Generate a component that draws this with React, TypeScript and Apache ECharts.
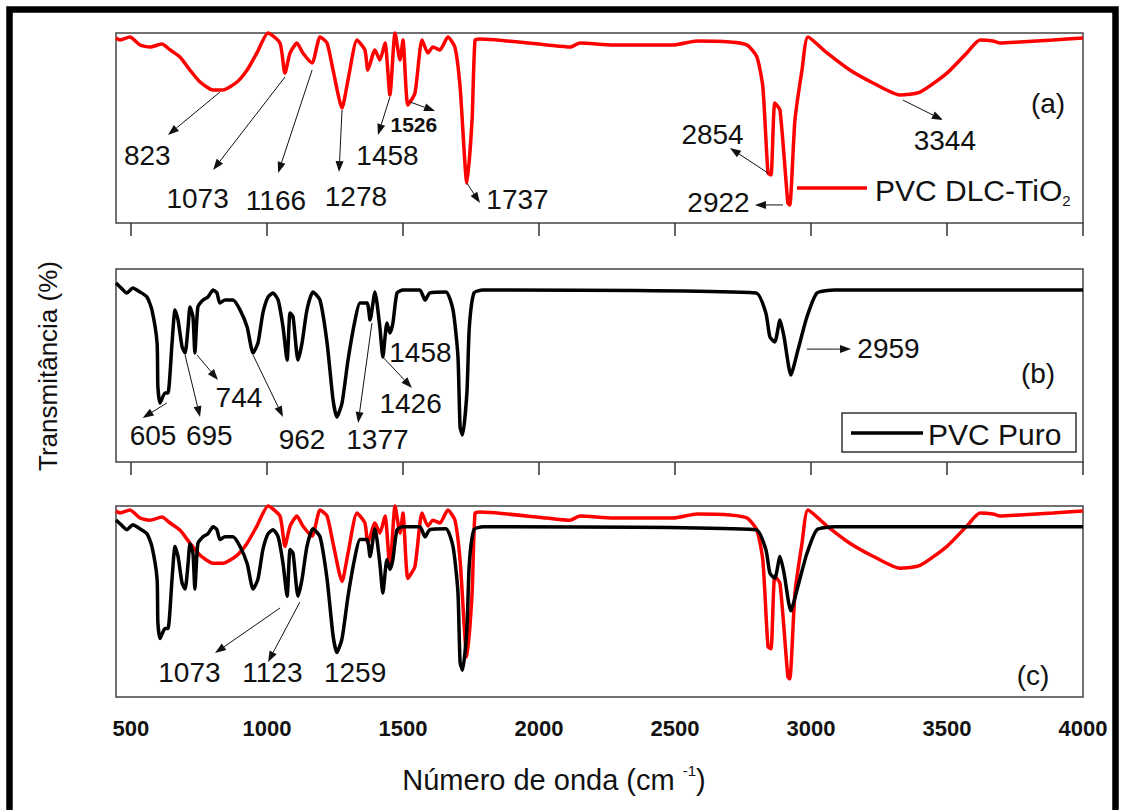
import React, { useEffect, useRef } from 'react';
import * as echarts from 'echarts';

const xTicks = [500, 1000, 1500, 2000, 2500, 3000, 3500, 4000];

// PVC DLC-TiO2 (red): [wavenumber, transmittance (relative)]
const redSpectrum: [number, number][] = [
  [445, 97.4], [460, 96.3], [496, 97.9], [533, 93.7], [570, 92.6], [614, 94.2], [644, 91.1],
  [680, 87.4], [717, 80.5], [754, 74.2], [802, 70.0], [838, 70.0], [890, 74.2], [927, 80.5],
  [963, 89.5], [1004, 100], [1048, 94.7], [1066, 78.9], [1085, 89.5], [1110, 94.7], [1132, 89.5],
  [1166, 84.2], [1195, 97.9], [1221, 94.7], [1243, 80.5], [1276, 60.5], [1298, 75.3], [1331, 96.3],
  [1360, 91.1], [1371, 80.5], [1397, 91.1], [1415, 85.8], [1434, 94.7], [1452, 67.4], [1471, 100],
  [1489, 85.8], [1500, 96.3], [1518, 62.1], [1544, 68.4], [1570, 96.3], [1592, 89.5], [1610, 92.6],
  [1636, 91.1], [1665, 97.9], [1691, 92.6], [1710, 71.6], [1735, 21], [1754, 54.2], [1765, 96.3],
  [1783, 96.8], [2029, 93.7], [2114, 92.6], [2151, 94.7], [2272, 93.7], [2493, 93.7], [2581, 95.8],
  [2702, 95.3], [2765, 93.7], [2801, 87.4], [2823, 71.6], [2842, 26.3], [2853, 25.3], [2867, 63.2],
  [2886, 59.5], [2915, 10.5], [2922, 9.5], [2941, 54.2], [2967, 80.5], [2989, 97.9], [3059, 89.5],
  [3143, 80.5], [3228, 73.7], [3327, 67.4], [3401, 68.9], [3500, 78.9], [3573, 89.5], [3621, 96.3],
  [3669, 95.8], [3695, 94.7], [3768, 95.3], [3889, 96.3], [4000, 97.4],
];

// PVC Puro (black)
const blackSpectrum: [number, number][] = [
  [445, 92.7], [460, 90.7], [485, 87.6], [507, 90.2], [533, 88.1], [559, 85.5], [577, 78.8],
  [596, 61.7], [599, 38.9], [607, 30.6], [625, 35.8], [636, 35.8], [651, 61.7], [662, 78.8],
  [673, 73.6], [688, 59.6], [699, 56.5], [710, 69.9], [717, 80.3], [728, 75.1], [735, 56.5],
  [746, 80.3], [765, 83.9], [783, 85.5], [802, 89.1], [816, 87.6], [827, 82.4], [846, 83.9],
  [875, 83.9], [901, 78.8], [927, 69.9], [949, 56.5], [967, 61.7], [985, 77.2], [1004, 85.5],
  [1022, 87.6], [1041, 83.9], [1059, 69.9], [1074, 52.8], [1085, 77.2], [1096, 75.1], [1114, 52.8],
  [1129, 61.7], [1147, 78.8], [1169, 88.1], [1195, 83.9], [1221, 61.7], [1243, 32.1], [1257, 23.3],
  [1276, 30.6], [1298, 52.8], [1324, 73.6], [1342, 82.4], [1368, 82.4], [1379, 73.6], [1397, 88.1],
  [1415, 69.9], [1426, 54.4], [1441, 72.0], [1452, 66.8], [1463, 72.0], [1478, 87.6], [1500, 89.1],
  [1562, 89.1], [1581, 83.9], [1599, 87.6], [1658, 88.1], [1684, 78.8], [1702, 55], [1710, 18.1],
  [1719, 14], [1735, 35.8], [1744, 70], [1761, 87.6], [1794, 89.1], [2798, 87.6], [2834, 77.2],
  [2849, 64.8], [2867, 62.2], [2886, 73.6], [2901, 64.8], [2926, 45.1], [2952, 58.0], [2985, 75.1],
  [3022, 87.6], [3088, 89.1], [4000, 89.1],
];

type Ann = {
  panel: number;
  text: string;
  from?: [number, number];
  to?: [number, number];
  label: [number, number];
  bold?: boolean;
};

const peakAnnotations: Ann[] = [
  { panel: 0, text: '823', from: [827, 68.9], to: [636, 46.3], label: [560, 35.3] },
  { panel: 0, text: '1073', from: [1066, 76.8], to: [802, 27.9], label: [745, 12.9] },
  { panel: 0, text: '1166', from: [1166, 80.5], to: [1041, 26.3], label: [1033, 12.1] },
  { panel: 0, text: '1278', from: [1276, 59.5], to: [1265, 26.8], label: [1327, 14.2] },
  { panel: 0, text: '1458', from: [1452, 66.3], to: [1408, 46.3], label: [1443, 35.3] },
  { panel: 0, text: '1526', from: [1526, 63.7], to: [1618, 58.9], label: [1540, 51.6], bold: true },
  { panel: 0, text: '1737', from: [1735, 21], to: [1783, 10.5], label: [1921, 12.6] },
  { panel: 0, text: '2854', from: [2842, 26.3], to: [2702, 39.5], label: [2638, 46.8] },
  { panel: 0, text: '2922', from: [2897, 9.5], to: [2794, 9.5], label: [2660, 11] },
  { panel: 0, text: '3344', from: [3338, 64.7], to: [3485, 54.2], label: [3492, 43.2] },
  { panel: 1, text: '605', from: [632, 30.6], to: [543, 22.8], label: [581, 13.5] },
  { panel: 1, text: '695', from: [699, 55.4], to: [754, 23.3], label: [788, 13.5] },
  { panel: 1, text: '744', from: [743, 55.4], to: [820, 42.5], label: [897, 33.2] },
  { panel: 1, text: '962', from: [949, 55.4], to: [1059, 23.3], label: [1129, 11.9] },
  { panel: 1, text: '1377', from: [1386, 72], to: [1335, 20.2], label: [1406, 11.9] },
  { panel: 1, text: '1426', from: [1426, 54.4], to: [1533, 38.3], label: [1528, 30.1] },
  { panel: 1, text: '1458', label: [1564, 56.7] },
  { panel: 1, text: '2959', from: [2985, 58.5], to: [3147, 58.5], label: [3285, 59] },
  { panel: 2, text: '1073', from: [1048, 46.6], to: [809, 23], label: [715, 12.8] },
  { panel: 2, text: '1123', from: [1121, 49.7], to: [1004, 18.3], label: [1020, 12.8] },
  { panel: 2, text: '1259', label: [1324, 12.8] },
];

const FONT = '"Liberation Sans", Arial, sans-serif';

export default function App() {
  const ref = useRef<HTMLDivElement>(null);
  useEffect(() => {
    const chart = echarts.init(ref.current!, null, { renderer: 'svg' });
    const grids = [
      { left: 116, top: 33, width: 967, height: 190 },
      { left: 116, top: 269, width: 967, height: 193 },
      { left: 116, top: 506, width: 967, height: 191 },
    ];
    const lineSeries = (axis: number, data: [number, number][], color: string) => ({
      type: 'line',
      xAxisIndex: axis,
      yAxisIndex: axis,
      data,
      showSymbol: false,
      clip: false,
      smooth: 0.2,
      lineStyle: { color, width: 3.5 },
    });
    const option: any = {
      animation: false,
      backgroundColor: '#fff',
      grid: grids.map((g) => ({ ...g, show: true, borderColor: '#444', borderWidth: 1.5, backgroundColor: 'transparent' })),
      xAxis: grids.map((_, i) => ({
        type: 'value',
        gridIndex: i,
        min: 445,
        max: 4000,
        axisLine: { show: false },
        splitLine: { show: false },
        axisTick: {
          show: i < 2,
          customValues: xTicks,
          length: 13,
          inside: false,
          lineStyle: { color: '#333', width: 1.5 },
        },
        axisLabel: {
          show: i === 2,
          customValues: xTicks,
          formatter: (v: number) => String(v),
          margin: 20,
          fontSize: 22,
          fontWeight: 'bold',
          fontFamily: FONT,
          color: '#111',
        },
      })),
      yAxis: grids.map((_, i) => ({ type: 'value', gridIndex: i, min: 0, max: 100, show: false })),
      series: [
        lineSeries(0, redSpectrum, '#ff0000'),
        lineSeries(1, blackSpectrum, '#000000'),
        lineSeries(2, redSpectrum, '#ff0000'),
        lineSeries(2, blackSpectrum, '#000000'),
      ],
    };
    chart.setOption(option);

    const txt = (x: number, y: number, text: string, size: number, extra: any = {}) => ({
      type: 'text',
      x,
      y,
      z: 50,
      style: {
        text,
        fill: '#111',
        font: `${extra.bold ? 'bold ' : ''}${size}px ${FONT}`,
        textAlign: extra.align || 'center',
        align: extra.align || 'center',
        textVerticalAlign: 'middle',
        verticalAlign: 'middle',
      },
      ...(extra.rotation ? { rotation: extra.rotation } : {}),
    });

    const g: any[] = [];
    // outer frame
    g.push({ type: 'rect', shape: { x: 9.5, y: 9.5, width: 1106, height: 900 }, style: { fill: 'none', stroke: '#000', lineWidth: 6.5 }, z: 60 });
    // axis titles
    g.push(txt(48, 366, 'Transmitância (%)', 26, { rotation: Math.PI / 2 }));
    g.push({
      type: 'text', x: 554, y: 780, z: 50,
      style: {
        text: '{a|Número de onda (cm }{b|-1}{a|)}',
        fill: '#111',
        textAlign: 'center', align: 'center',
        textVerticalAlign: 'middle', verticalAlign: 'middle',
        rich: {
          a: { fontSize: 29, fontFamily: FONT, fill: '#111', lineHeight: 34 },
          b: { fontSize: 15, fontFamily: FONT, fill: '#111', verticalAlign: 'top', lineHeight: 34 },
        },
      },
    });
    // panel labels
    g.push(txt(1048, 103, '(a)', 28));
    g.push(txt(1038, 373, '(b)', 28));
    g.push(txt(1033, 675, '(c)', 28));
    // legend (a)
    g.push({ type: 'line', shape: { x1: 797, y1: 188, x2: 867, y2: 188 }, style: { stroke: '#ff0000', lineWidth: 3.5 }, z: 50 });
    g.push({
      type: 'text', x: 875, y: 190, z: 50,
      style: {
        text: '{a|PVC DLC-TiO}{s|2}',
        textAlign: 'left', align: 'left',
        textVerticalAlign: 'middle', verticalAlign: 'middle',
        rich: {
          a: { fontSize: 30, fontFamily: FONT, fill: '#111', lineHeight: 36 },
          s: { fontSize: 15, fontFamily: FONT, fill: '#111', verticalAlign: 'bottom', lineHeight: 36 },
        },
      },
    });
    // legend (b)
    g.push({ type: 'rect', shape: { x: 842, y: 413, width: 234, height: 39 }, style: { fill: '#fff', stroke: '#333', lineWidth: 1.5 }, z: 45 });
    g.push({ type: 'line', shape: { x1: 851, y1: 433, x2: 923, y2: 433 }, style: { stroke: '#000', lineWidth: 3.5 }, z: 50 });
    g.push(txt(928, 434, 'PVC Puro', 30, { align: 'left' }));

    // peak annotations
    for (const a of peakAnnotations) {
      const lp = chart.convertToPixel({ gridIndex: a.panel } as any, a.label) as number[];
      g.push(txt(lp[0], lp[1], a.text, a.bold ? 21 : 28, { bold: a.bold }));
      if (a.from && a.to) {
        const p1 = chart.convertToPixel({ gridIndex: a.panel } as any, a.from) as number[];
        const p2 = chart.convertToPixel({ gridIndex: a.panel } as any, a.to) as number[];
        const dx = p2[0] - p1[0];
        const dy = p2[1] - p1[1];
        const len = Math.sqrt(dx * dx + dy * dy) || 1;
        const ux = dx / len;
        const uy = dy / len;
        const hl = 11;
        const hw = 4;
        const bx = p2[0] - ux * hl;
        const by = p2[1] - uy * hl;
        g.push({ type: 'line', shape: { x1: p1[0], y1: p1[1], x2: bx, y2: by }, style: { stroke: '#111', lineWidth: 1 }, z: 50 });
        g.push({
          type: 'polygon',
          shape: { points: [[p2[0], p2[1]], [bx - uy * hw, by + ux * hw], [bx + uy * hw, by - ux * hw]] },
          style: { fill: '#111' },
          z: 50,
        });
      }
    }
    chart.setOption({ graphic: g });
    return () => chart.dispose();
  }, []);
  return <div ref={ref} style={{ position: 'fixed', left: 0, top: 0, width: 1123, height: 810, background: '#fff' }} />;
}
